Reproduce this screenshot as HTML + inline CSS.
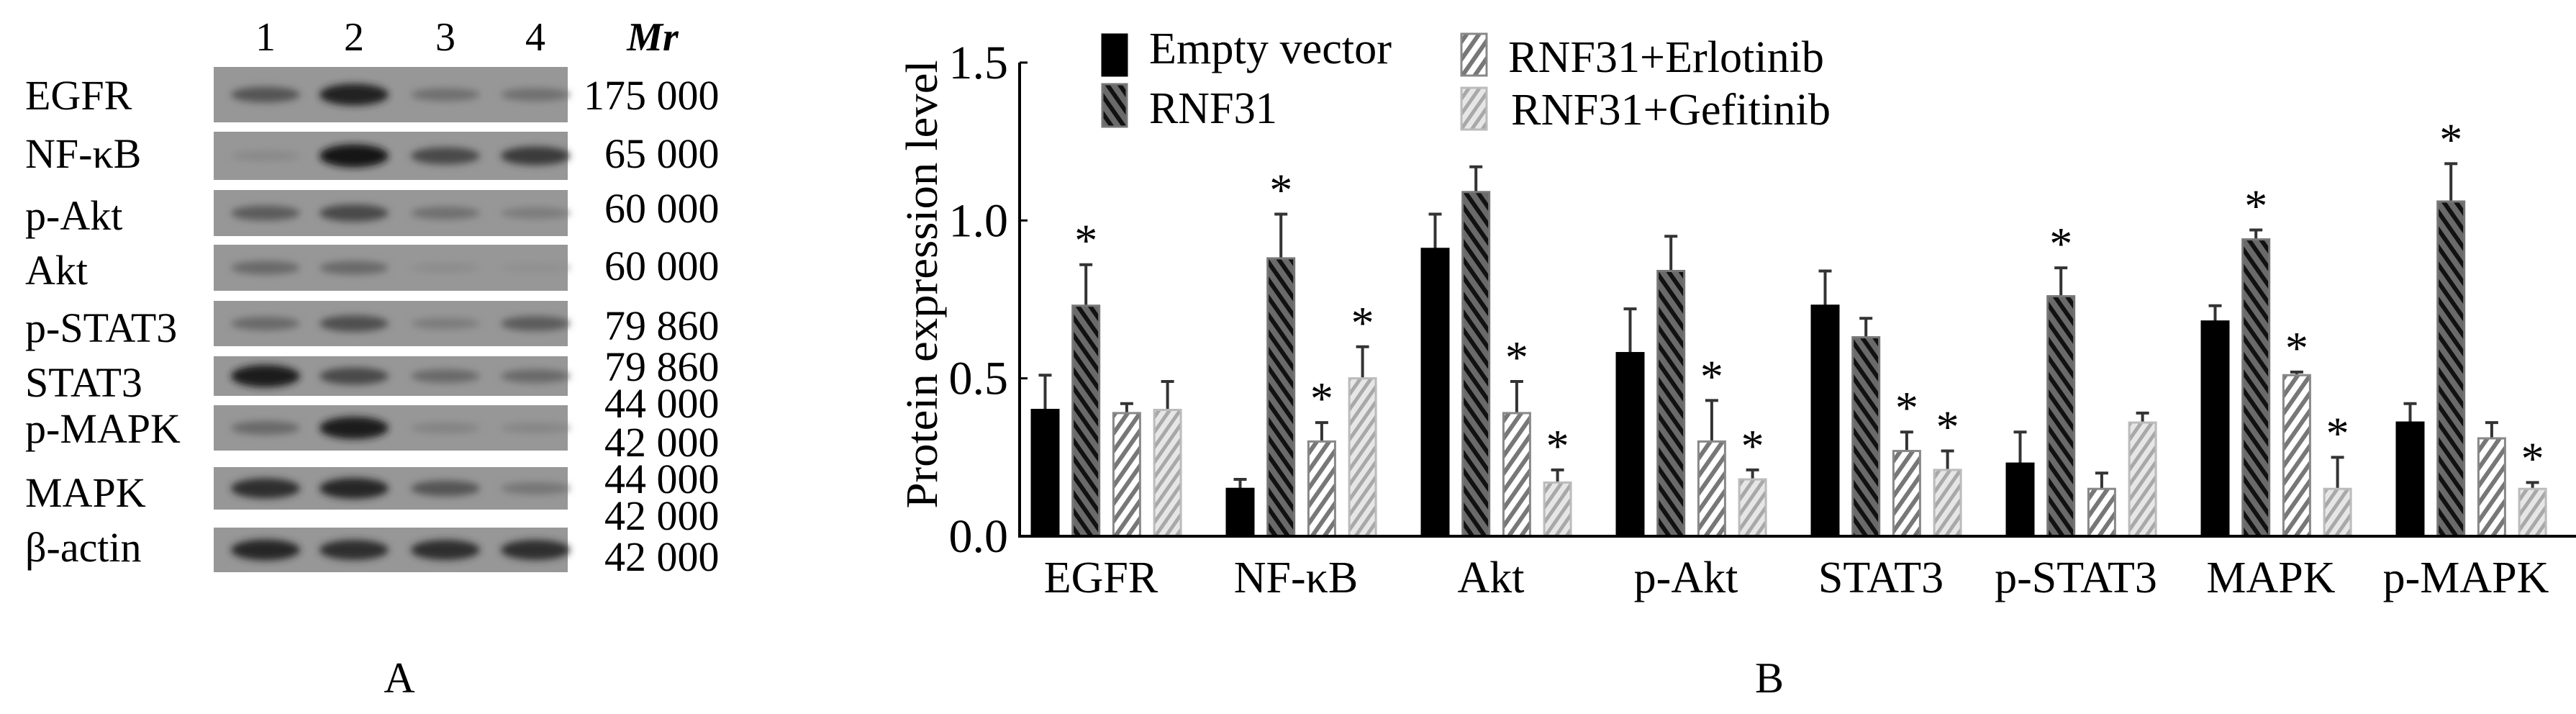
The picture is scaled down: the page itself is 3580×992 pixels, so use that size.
<!DOCTYPE html>
<html><head><meta charset="utf-8"><style>
html,body{margin:0;padding:0;background:#fff;}
svg{display:block;font-family:"Liberation Serif",serif;}
</style></head><body>
<svg id="fig" width="3580" height="992" viewBox="0 0 3580 992" xmlns="http://www.w3.org/2000/svg">
<defs>
<filter id="blur" x="-50%" y="-50%" width="200%" height="200%"><feGaussianBlur stdDeviation="5"/></filter>
<pattern id="pRNF" width="14" height="14" patternUnits="userSpaceOnUse" patternTransform="rotate(-35)">
<rect width="14" height="14" fill="#6a6a6a"/><rect width="6" height="14" fill="#111"/></pattern>
<pattern id="pErl" width="14" height="14" patternUnits="userSpaceOnUse" patternTransform="rotate(35)">
<rect width="14" height="14" fill="#fff"/><rect width="6" height="14" fill="#777"/></pattern>
<pattern id="pGef" width="12" height="12" patternUnits="userSpaceOnUse" patternTransform="rotate(35)">
<rect width="12" height="12" fill="#e6e6e6"/><rect width="5" height="12" fill="#a8a8a8"/></pattern>
</defs>
<g id="blotPanel"></g>
<text x="555" y="962" font-size="60" text-anchor="middle">A</text>
<g id="chart"></g>
<text x="2459" y="962" font-size="60" text-anchor="middle">B</text>
</svg>
<script>
const NS="http://www.w3.org/2000/svg";
function mk(parent,tag,attrs,text){const e=document.createElementNS(NS,tag);for(const k in attrs)e.setAttribute(k,attrs[k]);if(text!==undefined)e.textContent=text;parent.appendChild(e);return e;}

// ---------- Western blot (panel A) ----------
const blotRows=["EGFR","NF-κB","p-Akt","Akt","p-STAT3","STAT3","p-MAPK","MAPK","β-actin"];
const blotMr=[["175  000"],["65  000"],["60  000"],["60  000"],["79  860"],["79  860","44  000"],["42  000"],["44  000","42  000"],["42  000"]];
const blotIntensity=[[0.5,0.9,0.3,0.3],[0.1,1.0,0.6,0.7],[0.45,0.6,0.3,0.2],[0.35,0.35,0.08,0.05],[0.35,0.55,0.2,0.45],[0.95,0.6,0.35,0.35],[0.35,0.95,0.15,0.12],[0.8,0.85,0.5,0.25],[0.85,0.8,0.8,0.8]];
const rowTop=[93,183,264,340,418,495,563,649,733],rowBot=[170,250,328,404,481,550,626,708,795];
const rowLabelY=[132,213,299,375,455,531,595,684,760];
const mrY=[[132],[213],[289],[369],[452],[509,560],[614],[665,716],[773]];
const laneX=[369,492,619,744];
const bp=document.getElementById('blotPanel');
["1","2","3","4"].forEach((l,i)=>{const t=mk(bp,'text',{x:laneX[i],y:70,'font-size':56,'text-anchor':'middle'},l);

});
const mr=mk(bp,'text',{x:907,y:70,'font-size':56,'font-style':'italic','font-weight':'bold','text-anchor':'middle'},"Mr");


blotRows.forEach((r,i)=>{
  const g=mk(bp,'g',{});
  
  
  const rect=mk(g,'rect',{x:297,y:rowTop[i],width:492,height:rowBot[i]-rowTop[i],fill:'#979797'});
  
  
  const cy=(rowTop[i]+rowBot[i])/2;
  blotIntensity[i].forEach((v,j)=>{
    const c=Math.round(150-130*v);
    const e=mk(g,'ellipse',{cx:laneX[j],cy:cy,rx:48,ry:6+10*v,fill:`rgb(${c},${c},${c})`,filter:'url(#blur)'});
    
    
  });
  const t=mk(g,'text',{x:35,y:rowLabelY[i]+20,'font-size':58},r);
  
  
  blotMr[i].forEach((m,k)=>{
    const tt=mk(g,'text',{x:i===0?811:840,y:mrY[i][k]+20,'font-size':58,'xml:space':'preserve'},m);
    
    
  });
});

// ---------- Bar chart (panel B) ----------
const categories=["EGFR","NF-κB","Akt","p-Akt","STAT3","p-STAT3","MAPK","p-MAPK"];
const seriesNames=["Empty vector","RNF31","RNF31+Erlotinib","RNF31+Gefitinib"];
const emptyVals=[0.40,0.15,0.91,0.58,0.73,0.23,0.68,0.36];
const emptyErr=[0.11,0.03,0.11,0.14,0.11,0.10,0.05,0.06];
const rnfVals=[0.73,0.88,1.09,0.84,0.63,0.76,0.94,1.06];
const rnfErr=[0.13,0.14,0.08,0.11,0.06,0.09,0.03,0.12];
const erlVals=[0.39,0.30,0.39,0.30,0.27,0.15,0.51,0.31];
const erlErr=[0.03,0.06,0.10,0.13,0.06,0.05,0.01,0.05];
const gefVals=[0.40,0.50,0.17,0.18,0.21,0.36,0.15,0.15];
const gefErr=[0.09,0.10,0.04,0.03,0.06,0.03,0.10,0.02];
const emptyStar=[0,0,0,0,0,0,0,0];
const rnfStar=[1,1,0,0,0,1,1,1];
const erlStar=[0,1,1,1,1,0,1,0];
const gefStar=[0,1,1,1,1,0,1,1];
const yTicks=[0,0.5,1.0,1.5];
const yTickLabels=["0.0","0.5","1.0","1.5"];

const X0=1417,X1=3580,Y0=745,YPU=438.7;
const yS=v=>Y0-v*YPU;
const groupStart=i=>1434+i*271;
const barX=(i,s)=>groupStart(i)+s*56.7;
const BW=37;
const fills=["#000","url(#pRNF)","url(#pErl)","url(#pGef)"];
const strokes=["#000","#777","#888","#bbb"];
const vals=[emptyVals,rnfVals,erlVals,gefVals],errs=[emptyErr,rnfErr,erlErr,gefErr],stars=[emptyStar,rnfStar,erlStar,gefStar];
const ch=document.getElementById('chart');

categories.forEach((c,i)=>{
  for(let s=0;s<4;s++){
    const v=vals[s][i],e=errs[s][i],x=barX(i,s),cx=x+BW/2;
    const er=mk(ch,'path',{d:`M${cx} ${yS(v)} V${yS(v+e)} M${cx-9} ${yS(v+e)} H${cx+9}`,stroke:'#333','stroke-width':4,fill:'none'});
    
    
    const b=mk(ch,'rect',{x:x,y:yS(v),width:BW,height:Y0-yS(v),fill:fills[s],stroke:strokes[s],'stroke-width':3});
    
    
    if(stars[s][i]){
      const st=mk(ch,'text',{x:cx,y:yS(v+e)-12,'font-size':64,'text-anchor':'middle'},"*");
      
      
    }
  }
  const t=mk(ch,'text',{x:groupStart(i)+96,y:823,'font-size':62,'text-anchor':'middle'},c);
  
  
});
const ax=mk(ch,'path',{d:`M${X0} ${yS(1.5)} V${Y0} H${X1}`,stroke:'#000','stroke-width':4,fill:'none'});


yTicks.forEach((t,k)=>{
  const tk=mk(ch,'line',{x1:X0,x2:X0+11,y1:yS(t),y2:yS(t),stroke:'#000','stroke-width':3});
  
  
  const tl=mk(ch,'text',{x:1401,y:yS(t)+22,'font-size':66,'text-anchor':'end'},yTickLabels[k]);
  
  
});
const yt=mk(ch,'text',{x:0,y:0,'font-size':62,'text-anchor':'middle',transform:'translate(1302,395) rotate(-90)',textLength:623,lengthAdjust:'spacingAndGlyphs'},"Protein expression level");



// legend
const legBox=[[1532,48,34,57],[1532,117,34,59],[2031,47,35,58],[2031,122,35,58]];
const legText=[[1597,88,337],[1597,171,178],[2096,100,439],[2100,173,444]];
seriesNames.forEach((n,s)=>{
  const g=mk(ch,'g',{});
  
  
  mk(g,'rect',{x:legBox[s][0],y:legBox[s][1],width:legBox[s][2],height:legBox[s][3],fill:fills[s],stroke:strokes[s],'stroke-width':3});
  mk(g,'text',{x:legText[s][0],y:legText[s][1],'font-size':62,textLength:legText[s][2],lengthAdjust:'spacingAndGlyphs'},n);
});
</script>
</body></html>
